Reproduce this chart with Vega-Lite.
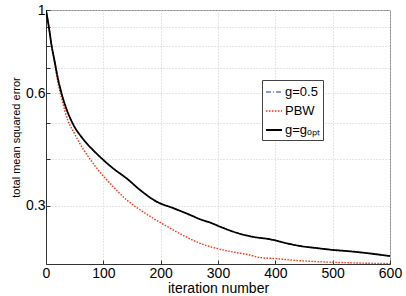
{
  "$schema": "https://vega.github.io/schema/vega-lite/v6.json",
  "width": 344,
  "height": 254,
  "autosize": {"type": "none"},
  "padding": {"left": 46, "top": 10, "right": 16, "bottom": 32},
  "background": "white",
  "config": {
    "view": {"stroke": "#8a8a8a", "strokeWidth": 1},
    "font": "Liberation Sans"
  },
  "datasets": {
    "curves": [
      {"s": "g=0.5", "x": 0, "y": 1.0},
      {"s": "g=0.5", "x": 5, "y": 0.9},
      {"s": "g=0.5", "x": 10, "y": 0.8},
      {"s": "g=0.5", "x": 15, "y": 0.73},
      {"s": "g=0.5", "x": 20, "y": 0.665},
      {"s": "g=0.5", "x": 27, "y": 0.6},
      {"s": "g=0.5", "x": 35, "y": 0.548},
      {"s": "g=0.5", "x": 46, "y": 0.5},
      {"s": "g=0.5", "x": 65, "y": 0.452},
      {"s": "g=0.5", "x": 84, "y": 0.42},
      {"s": "g=0.5", "x": 100, "y": 0.398},
      {"s": "g=0.5", "x": 117, "y": 0.378},
      {"s": "g=0.5", "x": 141, "y": 0.355},
      {"s": "g=0.5", "x": 164, "y": 0.331},
      {"s": "g=0.5", "x": 193, "y": 0.308},
      {"s": "g=0.5", "x": 222, "y": 0.296},
      {"s": "g=0.5", "x": 251, "y": 0.284},
      {"s": "g=0.5", "x": 270, "y": 0.276},
      {"s": "g=0.5", "x": 286, "y": 0.271},
      {"s": "g=0.5", "x": 304, "y": 0.264},
      {"s": "g=0.5", "x": 327, "y": 0.256},
      {"s": "g=0.5", "x": 362, "y": 0.248},
      {"s": "g=0.5", "x": 391, "y": 0.2444},
      {"s": "g=0.5", "x": 420, "y": 0.2384},
      {"s": "g=0.5", "x": 443, "y": 0.2346},
      {"s": "g=0.5", "x": 475, "y": 0.2313},
      {"s": "g=0.5", "x": 500, "y": 0.229},
      {"s": "g=0.5", "x": 530, "y": 0.227},
      {"s": "g=0.5", "x": 560, "y": 0.2245},
      {"s": "g=0.5", "x": 600, "y": 0.2205},
      {"s": "PBW", "x": 0, "y": 1.0},
      {"s": "PBW", "x": 5, "y": 0.9},
      {"s": "PBW", "x": 10, "y": 0.8},
      {"s": "PBW", "x": 15, "y": 0.725},
      {"s": "PBW", "x": 20, "y": 0.65},
      {"s": "PBW", "x": 28, "y": 0.575},
      {"s": "PBW", "x": 38, "y": 0.508},
      {"s": "PBW", "x": 49, "y": 0.47},
      {"s": "PBW", "x": 58, "y": 0.443},
      {"s": "PBW", "x": 66, "y": 0.423},
      {"s": "PBW", "x": 90, "y": 0.376},
      {"s": "PBW", "x": 117, "y": 0.338},
      {"s": "PBW", "x": 141, "y": 0.311},
      {"s": "PBW", "x": 164, "y": 0.293},
      {"s": "PBW", "x": 187, "y": 0.278},
      {"s": "PBW", "x": 216, "y": 0.262},
      {"s": "PBW", "x": 240, "y": 0.25},
      {"s": "PBW", "x": 269, "y": 0.2384},
      {"s": "PBW", "x": 304, "y": 0.2298},
      {"s": "PBW", "x": 333, "y": 0.2251},
      {"s": "PBW", "x": 356, "y": 0.2219},
      {"s": "PBW", "x": 373, "y": 0.2185},
      {"s": "PBW", "x": 402, "y": 0.217},
      {"s": "PBW", "x": 431, "y": 0.2149},
      {"s": "PBW", "x": 475, "y": 0.213},
      {"s": "PBW", "x": 520, "y": 0.2118},
      {"s": "PBW", "x": 560, "y": 0.211},
      {"s": "PBW", "x": 600, "y": 0.2105},
      {"s": "g=gₒₚₜ", "x": 0, "y": 1.0},
      {"s": "g=gₒₚₜ", "x": 5, "y": 0.9},
      {"s": "g=gₒₚₜ", "x": 10, "y": 0.8},
      {"s": "g=gₒₚₜ", "x": 15, "y": 0.73},
      {"s": "g=gₒₚₜ", "x": 20, "y": 0.665},
      {"s": "g=gₒₚₜ", "x": 27, "y": 0.6},
      {"s": "g=gₒₚₜ", "x": 35, "y": 0.548},
      {"s": "g=gₒₚₜ", "x": 46, "y": 0.5},
      {"s": "g=gₒₚₜ", "x": 65, "y": 0.452},
      {"s": "g=gₒₚₜ", "x": 84, "y": 0.42},
      {"s": "g=gₒₚₜ", "x": 100, "y": 0.398},
      {"s": "g=gₒₚₜ", "x": 117, "y": 0.378},
      {"s": "g=gₒₚₜ", "x": 141, "y": 0.355},
      {"s": "g=gₒₚₜ", "x": 164, "y": 0.331},
      {"s": "g=gₒₚₜ", "x": 193, "y": 0.308},
      {"s": "g=gₒₚₜ", "x": 222, "y": 0.296},
      {"s": "g=gₒₚₜ", "x": 251, "y": 0.284},
      {"s": "g=gₒₚₜ", "x": 270, "y": 0.276},
      {"s": "g=gₒₚₜ", "x": 286, "y": 0.271},
      {"s": "g=gₒₚₜ", "x": 304, "y": 0.264},
      {"s": "g=gₒₚₜ", "x": 327, "y": 0.256},
      {"s": "g=gₒₚₜ", "x": 362, "y": 0.248},
      {"s": "g=gₒₚₜ", "x": 391, "y": 0.2444},
      {"s": "g=gₒₚₜ", "x": 420, "y": 0.2384},
      {"s": "g=gₒₚₜ", "x": 443, "y": 0.2346},
      {"s": "g=gₒₚₜ", "x": 475, "y": 0.2313},
      {"s": "g=gₒₚₜ", "x": 500, "y": 0.229},
      {"s": "g=gₒₚₜ", "x": 530, "y": 0.227},
      {"s": "g=gₒₚₜ", "x": 560, "y": 0.2245},
      {"s": "g=gₒₚₜ", "x": 600, "y": 0.2205}
    ]
  },
  "data": {"name": "curves"},
  "mark": {"type": "line", "interpolate": "monotone", "clip": true},
  "encoding": {
    "x": {
      "field": "x", "type": "quantitative",
      "scale": {"domain": [0, 600], "nice": false},
      "axis": {
        "values": [0, 100, 200, 300, 400, 500, 600],
        "title": "iteration number",
        "titleFont": "Liberation Sans", "titleFontSize": 14, "titleFontWeight": "normal",
        "titleColor": "black", "titlePadding": 1,
        "labelFont": "Liberation Sans", "labelFontSize": 14, "labelColor": "black",
        "labelPadding": 6, "labelFlush": false,
        "tickSize": -4, "tickColor": "#333", "domainColor": "#333",
        "grid": true, "gridColor": "#cccccc", "gridDash": [1, 2], "gridWidth": 1
      }
    },
    "y": {
      "field": "y", "type": "quantitative",
      "scale": {"type": "log", "domain": [0.21, 1], "nice": false},
      "axis": {
        "values": [0.3, 0.4, 0.5, 0.6, 0.7, 0.8, 0.9, 1],
        "format": "~g",
        "labelExpr": "datum.value == 0.3 || datum.value == 0.6 || datum.value == 1 ? datum.label : ''",
        "title": "total mean squared error",
        "titleFont": "Liberation Sans", "titleFontSize": 11, "titleFontWeight": "normal",
        "titleColor": "black", "titlePadding": 4,
        "labelFont": "Liberation Sans", "labelFontSize": 14, "labelColor": "black",
        "labelPadding": 5, "labelFlush": false,
        "tickSize": -4, "tickColor": "#333", "domainColor": "#333",
        "grid": true, "gridColor": "#cccccc", "gridDash": [1, 2], "gridWidth": 1
      }
    },
    "color": {
      "field": "s", "type": "nominal",
      "scale": {"domain": ["g=0.5", "PBW", "g=gₒₚₜ"], "range": ["#1f2f9f", "#ff3010", "#000000"]},
      "legend": {
        "title": null, "orient": "none", "legendX": 216, "legendY": 70,
        "labelFont": "Liberation Sans", "labelFontSize": 13, "labelColor": "black",
        "symbolType": "stroke", "symbolSize": 260, "symbolStrokeWidth": 2,
        "rowPadding": 3, "padding": 3, "strokeColor": "#444", "fillColor": "white",
        "labelOffset": 2
      }
    },
    "strokeDash": {
      "field": "s", "type": "nominal",
      "scale": {"domain": ["g=0.5", "PBW", "g=gₒₚₜ"], "range": [[5, 2, 1, 2], [1.5, 1.5], [1, 0]]},
      "legend": null
    },
    "strokeWidth": {
      "field": "s", "type": "nominal",
      "scale": {"domain": ["g=0.5", "PBW", "g=gₒₚₜ"], "range": [1, 1.8, 2.2]},
      "legend": null
    }
  }
}
